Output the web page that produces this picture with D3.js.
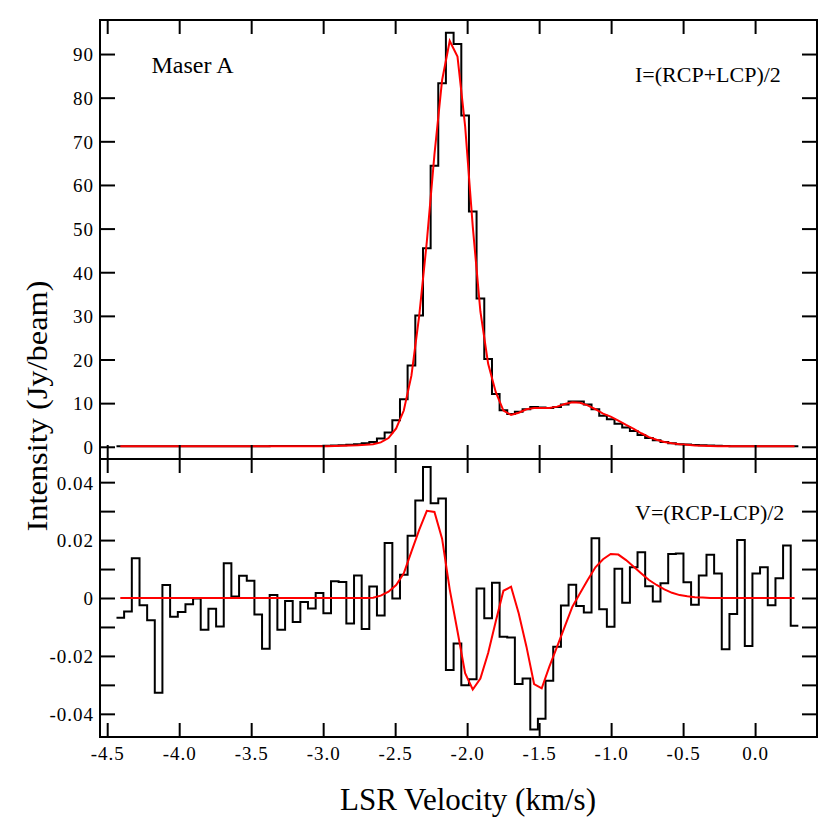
<!DOCTYPE html>
<html>
<head>
<meta charset="utf-8">
<script src="https://cdn.jsdelivr.net/npm/d3@7"></script>
<style>
  html, body { margin: 0; padding: 0; background: #fff; }
  svg { display: block; }
  text { font-family: "Liberation Serif", "Times New Roman", serif; fill: #000; }
</style>
</head>
<body>
<svg id="chart" width="830" height="839"></svg>
<script>
// ---- data (channel centre velocities, km/s) ----
const velocity = [
  -4.409,-4.356,-4.302,-4.249,-4.196,-4.143,-4.090,-4.036,-3.983,-3.930,
  -3.877,-3.824,-3.770,-3.717,-3.664,-3.611,-3.557,-3.504,-3.451,-3.398,
  -3.345,-3.291,-3.238,-3.185,-3.132,-3.079,-3.025,-2.972,-2.919,-2.866,
  -2.812,-2.759,-2.706,-2.653,-2.600,-2.546,-2.493,-2.440,-2.387,-2.333,
  -2.280,-2.227,-2.174,-2.121,-2.067,-2.014,-1.961,-1.908,-1.854,-1.801,
  -1.748,-1.695,-1.642,-1.588,-1.535,-1.482,-1.429,-1.375,-1.322,-1.269,
  -1.216,-1.163,-1.109,-1.056,-1.003,-0.950,-0.896,-0.843,-0.790,-0.737,
  -0.684,-0.630,-0.577,-0.524,-0.471,-0.418,-0.364,-0.311,-0.258,-0.205,
  -0.151,-0.098,-0.045,0.008,0.061,0.115,0.168,0.221,0.274
];
// Stokes I observed (Jy/beam)
const stokesI = [
  0.15,0.15,0.15,0.15,0.15,0.15,0.15,0.15,0.15,0.15,
  0.15,0.15,0.15,0.15,0.15,0.15,0.15,0.15,0.15,0.15,
  0.2,0.2,0.2,0.2,0.2,0.2,0.2,0.25,0.3,0.35,
  0.45,0.6,0.8,1.1,1.9,3.3,6.1,10.9,18.6,30.1,
  45.5,64.4,83.3,94.9,92.3,75.9,53.9,34.0,20.1,12.1,
  8.4,7.5,8.0,8.6,9.1,9.0,8.9,9.1,9.7,10.4,
  10.4,9.7,8.6,7.1,6.3,5.3,4.4,3.6,2.7,2.0,
  1.5,1.1,0.8,0.6,0.5,0.4,0.35,0.3,0.25,0.2,
  0.15,0.15,0.15,0.15,0.15,0.15,0.15,0.15,0.15
];
// Stokes I model fit
const stokesIFit = [
  0.15,0.15,0.15,0.15,0.15,0.15,0.15,0.15,0.15,0.15,
  0.15,0.15,0.15,0.15,0.15,0.15,0.15,0.15,0.15,0.15,
  0.15,0.15,0.15,0.15,0.15,0.15,0.15,0.15,0.2,0.25,
  0.3,0.35,0.45,0.6,1.0,2.0,4.2,8.3,16.3,30.0,
  47.0,67.0,84.0,93.0,89.4,73.5,50.5,31.0,19.0,12.5,
  8.3,7.3,7.8,8.6,8.9,8.9,8.9,9.2,9.8,10.2,
  10.1,9.5,8.6,7.6,6.9,6.0,5.0,4.1,3.1,2.2,
  1.6,1.1,0.8,0.6,0.45,0.3,0.25,0.2,0.15,0.15,
  0.15,0.15,0.15,0.15,0.15,0.15,0.15,0.15,0.15
];
// Stokes V observed (Jy/beam)
const stokesV = [
  -0.0068,-0.0047,0.0137,-0.0025,-0.0077,-0.0327,0.0045,-0.0065,-0.0048,-0.0022,
  -0.0002,-0.0110,-0.0037,-0.0098,0.0120,0.0005,0.0077,0.0060,-0.0057,-0.0175,
  0.0010,-0.0110,-0.0010,-0.0083,-0.0014,-0.0036,0.0017,-0.0053,0.0058,0.0055,
  -0.0088,0.0078,-0.0107,0.0040,-0.0060,0.0190,-0.0002,0.0080,0.0215,0.0337,
  0.0452,0.0327,0.0344,-0.0249,-0.0157,-0.0301,-0.0281,0.0033,-0.0070,0.0053,
  -0.0134,-0.0136,-0.0297,-0.0278,-0.0454,-0.0417,-0.0286,-0.0168,-0.0026,0.0046,
  -0.0028,-0.0050,0.0206,-0.0039,-0.0099,0.0101,-0.0016,0.0106,0.0158,0.0041,
  -0.0012,0.0051,0.0152,0.0154,0.0054,-0.0023,0.0078,0.0149,0.0085,-0.0177,
  -0.0055,0.0200,-0.0166,0.0085,0.0106,-0.0025,0.0068,0.0181,-0.0096
];
// Stokes V model fit
const stokesVFit = [
  0,0,0,0,0,0,0,0,0,0,
  0,0,0,0,0,0,0,0,0,0,
  0,0,0,0,0,0,0,0,0,0,
  0,0,0,0.0001,0.0008,0.0022,0.0045,0.0085,0.0160,0.0235,
  0.0301,0.0297,0.0205,0.0030,-0.0115,-0.0260,-0.0316,-0.0278,-0.0190,-0.0080,
  0.0025,0.0039,-0.0053,-0.0168,-0.0297,-0.0312,-0.0237,-0.0168,-0.0099,-0.0030,
  0.0016,0.0062,0.0106,0.0134,0.0152,0.0150,0.0131,0.0108,0.0085,0.0062,
  0.0045,0.0030,0.0018,0.0010,0.0006,0.0003,0.0002,0,0,0,
  0,0,0,0,0,0,0,0,0
];
const xTickValues = [-4.5,-4.0,-3.5,-3.0,-2.5,-2.0,-1.5,-1.0,-0.5,0.0];
const iTickValues = [0,10,20,30,40,50,60,70,80,90];
const vTickValues = [-0.04,-0.03,-0.02,-0.01,0,0.01,0.02,0.03,0.04];
const vLabelValues = [-0.04,-0.02,0,0.02,0.04];
const xDomain = [-4.55, 0.43];
const iDomain = [-2.8, 97.8];
const vDomain = [-0.048, 0.048];

// ---- layout ----
const L = 100, R = 817, T = 20, MID = 459, B = 737;
const svg = d3.select('#chart');

const x = d3.scaleLinear().domain(xDomain).range([L, R]);
const yI = d3.scaleLinear().domain(iDomain).range([MID, T]);
const yV = d3.scaleLinear().domain(vDomain).range([B, MID]);

function stepPoints(vals) {
  const pts = [];
  for (let i = 0; i < velocity.length; i++) {
    const lo = i > 0 ? (velocity[i-1] + velocity[i]) / 2 : velocity[0] - (velocity[1] - velocity[0]) / 2;
    const hi = i < velocity.length - 1 ? (velocity[i] + velocity[i+1]) / 2 : velocity[i] + (velocity[i] - velocity[i-1]) / 2;
    pts.push([lo, vals[i]], [hi, vals[i]]);
  }
  return pts;
}

function panel(yScale, obs, fit) {
  const lineStep = d3.line().x(d => x(d[0])).y(d => yScale(d[1]));
  svg.append('path').datum(stepPoints(obs)).attr('d', lineStep)
    .attr('fill', 'none').attr('stroke', '#000').attr('stroke-width', 2)
    .attr('stroke-linejoin', 'miter');
  const lineFit = d3.line().x((d, i) => x(velocity[i])).y(d => yScale(d));
  svg.append('path').datum(fit).attr('d', lineFit)
    .attr('fill', 'none').attr('stroke', '#ff0000').attr('stroke-width', 2);
}

panel(yI, stokesI, stokesIFit);
panel(yV, stokesV, stokesVFit);

function styleAxis(g) {
  g.select('.domain').remove();
  g.selectAll('.tick line').attr('stroke', '#000').attr('stroke-width', 2);
  g.attr('font-family', null).attr('font-size', null);
  g.selectAll('text').attr('font-size', 19).attr('letter-spacing', 1)
    .style('font-family', '"Liberation Serif", "Times New Roman", serif');
}

// x ticks on all four horizontal edges
const noLabel = () => '';
svg.append('g').attr('transform', `translate(0,${T})`)
  .call(d3.axisTop(x).tickValues(xTickValues).tickSizeInner(-14).tickSizeOuter(0).tickFormat(noLabel)).call(styleAxis);
svg.append('g').attr('transform', `translate(0,${MID})`)
  .call(d3.axisBottom(x).tickValues(xTickValues).tickSizeInner(-14).tickSizeOuter(0).tickFormat(noLabel)).call(styleAxis);
svg.append('g').attr('transform', `translate(0,${MID})`)
  .call(d3.axisTop(x).tickValues(xTickValues).tickSizeInner(-14).tickSizeOuter(0).tickFormat(noLabel)).call(styleAxis);
const xb = svg.append('g').attr('transform', `translate(0,${B})`)
  .call(d3.axisBottom(x).tickValues(xTickValues).tickSizeInner(-14).tickSizeOuter(0).tickFormat(d => d.toFixed(1))).call(styleAxis);
xb.selectAll('text').attr('y', 23).attr('dy', null);

// y ticks, top panel
const yl1 = svg.append('g').attr('transform', `translate(${L},0)`)
  .call(d3.axisLeft(yI).tickValues(iTickValues).tickSizeInner(-15).tickSizeOuter(0).tickFormat(d => String(d))).call(styleAxis);
yl1.selectAll('text').attr('x', -6).attr('dy', '0.36em');
svg.append('g').attr('transform', `translate(${R},0)`)
  .call(d3.axisRight(yI).tickValues(iTickValues).tickSizeInner(-15).tickSizeOuter(0).tickFormat(noLabel)).call(styleAxis);

// y ticks, bottom panel
const yl2 = svg.append('g').attr('transform', `translate(${L},0)`)
  .call(d3.axisLeft(yV).tickValues(vTickValues).tickSizeInner(-15).tickSizeOuter(0)
    .tickFormat(d => vLabelValues.some(v => Math.abs(v - d) < 1e-9) ? (Math.abs(d) < 1e-9 ? '0' : d.toFixed(2)) : '')).call(styleAxis);
yl2.selectAll('text').attr('x', -6).attr('dy', '0.36em');
svg.append('g').attr('transform', `translate(${R},0)`)
  .call(d3.axisRight(yV).tickValues(vTickValues).tickSizeInner(-15).tickSizeOuter(0).tickFormat(noLabel)).call(styleAxis);

// frames
svg.append('rect').attr('x', L).attr('y', T).attr('width', R - L).attr('height', MID - T)
  .attr('fill', 'none').attr('stroke', '#000').attr('stroke-width', 2);
svg.append('rect').attr('x', L).attr('y', MID).attr('width', R - L).attr('height', B - MID)
  .attr('fill', 'none').attr('stroke', '#000').attr('stroke-width', 2);

// annotations
svg.append('text').attr('x', 151.5).attr('y', 73).attr('font-size', 24).text('Maser A');
svg.append('text').attr('x', 635).attr('y', 81.5).attr('font-size', 22).text('I=(RCP+LCP)/2');
svg.append('text').attr('x', 635).attr('y', 520).attr('font-size', 22).text('V=(RCP-LCP)/2');

// axis titles
svg.append('text').attr('x', 468).attr('y', 810).attr('text-anchor', 'middle')
  .attr('font-size', 31).text('LSR Velocity (km/s)');
svg.append('text').attr('transform', 'translate(46.5,406) rotate(-90)')
  .attr('text-anchor', 'middle').attr('font-size', 30)
  .attr('textLength', 251).attr('lengthAdjust', 'spacingAndGlyphs')
  .text('Intensity (Jy/beam)');
</script>
</body>
</html>
